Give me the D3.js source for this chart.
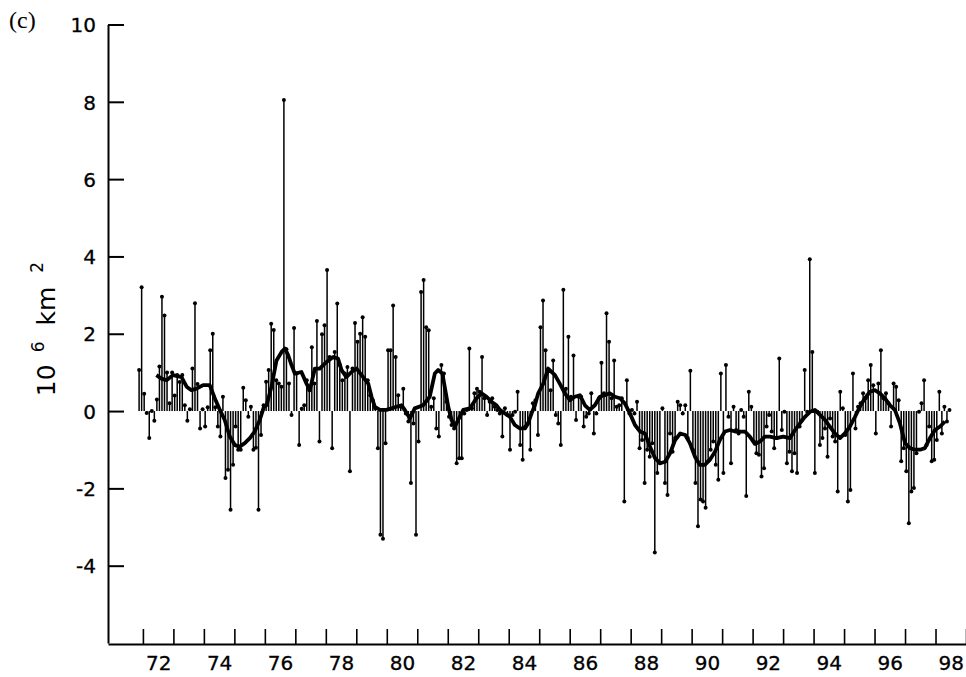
<!DOCTYPE html>
<html>
<head>
<meta charset="utf-8">
<script src="https://cdn.jsdelivr.net/npm/d3@7"></script>
<style>
  body { margin: 0; background: #fff; }
  svg text { fill: #000; }
</style>
</head>
<body>
<svg id="chart" width="966" height="677"></svg>
<script>
// --- Data: monthly anomalies (10^6 km^2), first month Nov 1971 ---
const startYear = 1971;
const startMonth = 11;
const anomaly = [
  1.06, 3.2, 0.45, -0.05, -0.7, 0.0, -0.25, 0.3, 1.15, 2.96, 2.47, 1.0,
  0.2, 1.0, 0.4, 0.93, 0.75, 0.93, 0.15, -0.25, 0.05, 1.1, 2.79, 0.7,
  -0.45, 0.05, -0.4, 0.1, 1.57, 2.0, 0.1, -0.4, -0.66, 0.37, -1.73, -1.52,
  -2.55, -1.39, -0.4, -1.0, -1.0, 0.6, 0.28, -0.15, 0.11, -1.0, -0.95, -2.55,
  -0.62, 0.15, 0.76, 1.06, 2.26, 2.1, 0.8, 0.71, 0.63, 8.05, 1.6, 0.71,
  -0.1, 2.15, 0.97, -0.88, 0.06, 0.15, 0.8, 0.54, 1.65, 0.71, 2.33, -0.79,
  1.99, 2.22, 3.65, 1.4, -0.96, 1.53, 2.78, 1.19, 0.8, 0.97, 1.14, -1.56,
  1.1, 2.28, 1.79, 2.0, 2.43, 1.92, 0.8, 0.41, 0.28, 0.07, -0.96, -3.2,
  -3.3, -0.83, 1.57, 1.57, 2.73, 1.4, 0.41, 0.11, 0.58, -0.06, -0.27, -1.86,
  -0.32, -3.2, -0.79, 3.08, 3.39, 2.17, 2.09, 0.11, 0.33, -0.45, -0.66, 1.19,
  0.97, 0.24, -0.15, -0.36, -0.45, -1.35, -1.22, -1.22, -0.06, 0.03, 1.62, 0.07,
  0.46, 0.58, 0.5, 1.4, 0.33, -0.1, 0.24, 0.33, 0.11, 0.03, -0.06, -0.66,
  0.07, -0.1, -1.0, -0.1, -0.02, 0.5, -0.88, -1.26, -0.4, -0.32, -1.0, 0.2,
  0.28, -0.62, 2.17, 2.86, 1.57, 1.06, 0.54, 1.31, -0.1, -0.32, -0.88, 3.14,
  0.58, 1.92, 0.37, 1.44, -0.23, 0.37, 0.37, -0.4, -0.15, -0.06, 0.46, -0.58,
  -0.06, 0.33, 1.25, 0.46, 2.53, 1.79, 0.33, 1.31, 0.11, 0.15, 0.33, -2.34,
  0.8, -0.06, 0.03, -0.06, 0.24, -0.96, -0.75, -1.86, -1.0, -1.18, -0.83, -3.66,
  -1.6, -1.35, 0.07, -1.86, -2.17, -0.58, -1.05, -0.7, 0.24, 0.15, -0.06, 0.15,
  -0.7, 1.04, -1.0, -1.86, -2.98, -2.29, -2.34, -2.5, -1.3, -1.0, -0.79, -1.39,
  -1.78, 0.97, -1.6, 1.19, -0.15, -1.35, 0.11, -0.49, -0.58, 0.03, -0.15, -2.2,
  0.5, 0.11, -0.79, -1.09, -1.13, -1.69, -1.48, -0.4, -0.1, -0.53, -0.96, -0.7,
  1.36, -0.49, -0.02, -1.35, -1.05, -1.56, -1.09, -1.6, -0.4, -0.23, 1.06, -0.02,
  3.93, 1.53, -1.6, -0.02, -0.88, -0.7, -0.45, -1.18, -0.19, -0.66, -0.79, -2.08,
  0.5, 0.07, -0.62, -2.34, -2.04, 0.97, -0.45, 0.11, 0.2, 0.46, 0.33, 0.8,
  1.19, 0.67, -0.58, 0.71, 1.57, 0.33, 0.46, 0.2, -0.4, 0.71, 0.63, 0.28,
  -1.3, -0.96, -1.56, -2.9, -2.08, -1.99, -1.09, -0.02, 0.2, 0.8, -0.88, -0.4,
  -1.3, -1.26, -0.75, 0.5, -0.58, 0.11, -0.27, 0.03
];

// running mean (thick line): months since Nov 1971, value
const smoothAt = [
  6.8, 8.8, 10.8, 13.4, 16.7, 18.7, 20.6, 22.6, 25.2, 27.8, 29.8, 31.8, 33.7, 35.7,
  37.7, 39.6, 41.6, 43.6, 45.5, 47.5, 49.1, 50.2, 52.1, 54.1, 56.1, 57.4, 58.7, 60,
  61.3, 63.9, 65.9, 67.2, 69.2, 71.1, 73.8, 76.4, 78.3, 79.7, 81.6, 83.6, 85.6, 88.2,
  90.2, 91.5, 92.8, 94.8, 97.4, 99.4, 101.3, 103.3, 104.6, 106.6, 108.5, 111.8, 114.4,
  116.4, 117.7, 119.4, 120.3, 121.7, 123, 124.3, 125.6, 127.6, 130.2, 132.8, 134.8,
  136.8, 138.7, 140.7, 142, 144, 146, 147.9, 149.9, 151.9, 153.1, 154.5, 155.8, 157.1,
  159.1, 161, 163.7, 165.6, 167.6, 169.6, 171.5, 173.5, 175.5, 177.4, 179.4, 181.4,
  183.3, 185.3, 187.3, 189.3, 191.2, 193.2, 195.2, 197.2, 199.1, 201.1, 203.1, 205.1,
  207.1, 209, 211, 213, 215, 216.8, 218.8, 220.7, 222.7, 224.7, 226.7, 228.6, 230.6,
  232.6, 234.6, 236.5, 238.5, 240.4, 242.4, 244.4, 246.3, 248.3, 250.9, 253.5, 256.2,
  258.2, 260.1, 262.1, 264.1, 266, 268, 270, 271.9, 273.9, 275.9, 277.8, 279.8, 281.8,
  283.7, 285.7, 287.7, 289.6, 291.6, 293.6, 295.6, 297.5, 299.5, 301.5, 303.4, 305.4,
  307.4, 309.3, 311.3, 313.3, 315.3, 317.2
];
const smoothVal = [
  0.93, 0.84, 0.8, 0.93, 0.88, 0.63, 0.54, 0.58, 0.67, 0.67, 0.33, 0.03, -0.23, -0.66,
  -0.88, -0.92, -0.83, -0.7, -0.53, -0.23, 0.1, 0.15, 0.63, 1.31, 1.53, 1.62, 1.44, 1.19,
  0.97, 1.01, 0.71, 0.54, 1.1, 1.1, 1.27, 1.4, 1.36, 1.06, 0.88, 1.01, 1.1, 0.88,
  0.71, 0.37, 0.11, 0.03, 0.03, 0.07, 0.11, 0.15, 0.03, -0.19, 0.07, 0.15, 0.37,
  0.97, 1.06, 0.97, 0.63, 0.11, -0.23, -0.4, -0.23, 0.03, 0.07, 0.33, 0.46,
  0.37, 0.24, 0.15, 0.03, -0.06, -0.15, -0.36, -0.45, -0.45, -0.32, -0.06, 0.15, 0.46,
  0.71, 1.1, 0.93, 0.71, 0.46, 0.28, 0.37, 0.41, 0.15, 0.03, 0.15, 0.37,
  0.41, 0.46, 0.37, 0.33, 0.2, -0.06, -0.36, -0.53, -0.58, -0.92, -1.22, -1.35,
  -1.31, -1.09, -0.75, -0.58, -0.62, -0.83, -1.18, -1.39, -1.39, -1.26, -1.05, -0.75, -0.53,
  -0.49, -0.53, -0.53, -0.53, -0.66, -0.85, -0.79, -0.66, -0.66, -0.7, -0.66, -0.7,
  -0.49, -0.32, -0.15, -0.02, 0.03, -0.1, -0.23, -0.4, -0.58, -0.7, -0.58, -0.4, -0.15,
  0.11, 0.33, 0.5, 0.54, 0.46, 0.33, 0.15, 0.03, -0.32, -0.83, -0.96, -1.0,
  -1.0, -0.96, -0.7, -0.49, -0.4, -0.27
];

const yTicks = [-4, -2, 0, 2, 4, 6, 8, 10];
const yearTicks = d3.range(1972, 2000);
const yearLabels = d3.range(1972, 1999, 2);

// month index -> decimal year (middle of the month)
const monthToYear = i => startYear + (startMonth - 1 + i + 0.5) / 12;

const svg = d3.select("#chart");
const x = d3.scaleLinear().domain([1970.855, 1999]).range([108, 966]);
const y = d3.scaleLinear().domain([-6, 10]).range([643, 24.5]);

const tickFont = "'DejaVu Sans', sans-serif";

// --- bars (thin stems with a dot at the end) ---
const stems = svg.append("g");
stems.selectAll("line")
  .data(anomaly)
  .enter()
  .append("line")
  .attr("x1", (d, i) => x(monthToYear(i)))
  .attr("x2", (d, i) => x(monthToYear(i)))
  .attr("y1", y(0))
  .attr("y2", d => y(d))
  .attr("stroke", "#000")
  .attr("stroke-width", 1.5);

stems.selectAll("circle")
  .data(anomaly)
  .enter()
  .append("circle")
  .attr("cx", (d, i) => x(monthToYear(i)))
  .attr("cy", d => y(d))
  .attr("r", 2)
  .attr("fill", "#000");

// --- running mean ---
const smooth = smoothAt.map((m, k) => ({t: monthToYear(m), v: smoothVal[k]}));
svg.append("path")
  .datum(smooth)
  .attr("fill", "none")
  .attr("stroke", "#000")
  .attr("stroke-width", 3.8)
  .attr("stroke-linejoin", "round")
  .attr("d", d3.line().x(d => x(d.t)).y(d => y(d.v)));

// --- axes ---
const yAxis = svg.append("g")
  .attr("transform", "translate(108,0)")
  .call(d3.axisLeft(y).tickValues(yTicks).tickSize(-16).tickSizeOuter(0).tickPadding(12)
    .tickFormat(d => String(d)));
yAxis.select(".domain").attr("stroke-width", 2);
yAxis.selectAll(".tick line").attr("stroke-width", 2);
yAxis.selectAll("text")
  .attr("font-family", tickFont)
  .attr("font-size", 20)
  .attr("stroke", "#000")
  .attr("stroke-width", 0.3)
  .attr("dy", "0.36em");

const xAxis = svg.append("g")
  .attr("transform", "translate(0,644)")
  .call(d3.axisBottom(x).tickValues(yearTicks).tickSize(-15).tickSizeOuter(0).tickFormat(""));
xAxis.select(".domain").attr("stroke-width", 2);
xAxis.selectAll(".tick line").attr("stroke-width", 1.6);

const xLabels = svg.append("g")
  .attr("transform", "translate(0,644)")
  .call(d3.axisBottom(x).tickValues(yearLabels.map(v => v + 0.5)).tickSize(0).tickPadding(12)
    .tickFormat(d => String(Math.floor(d)).slice(2)));
xLabels.select(".domain").remove();
xLabels.selectAll("text")
  .attr("font-family", tickFont)
  .attr("font-size", 20)
  .attr("stroke", "#000")
  .attr("stroke-width", 0.3);

// --- y axis title: 10^6 km^2 ---
const title = svg.append("text")
  .attr("transform", "translate(55,329) rotate(-90)")
  .attr("text-anchor", "middle")
  .attr("font-family", "'DejaVu Sans', sans-serif")
  .attr("font-size", 25);
title.append("tspan").text("10");
title.append("tspan").attr("dx", 12).attr("dy", -11).attr("font-size", 17).text("6");
title.append("tspan").attr("dx", 16).attr("dy", 11).text("km");
title.append("tspan").attr("dx", 14).attr("dy", -12).attr("font-size", 17).text("2");

// --- panel label ---
svg.append("text")
  .attr("x", 9)
  .attr("y", 28)
  .attr("font-family", "'Liberation Serif', 'Times New Roman', serif")
  .attr("font-size", 24)
  .text("(c)");
</script>
</body>
</html>
